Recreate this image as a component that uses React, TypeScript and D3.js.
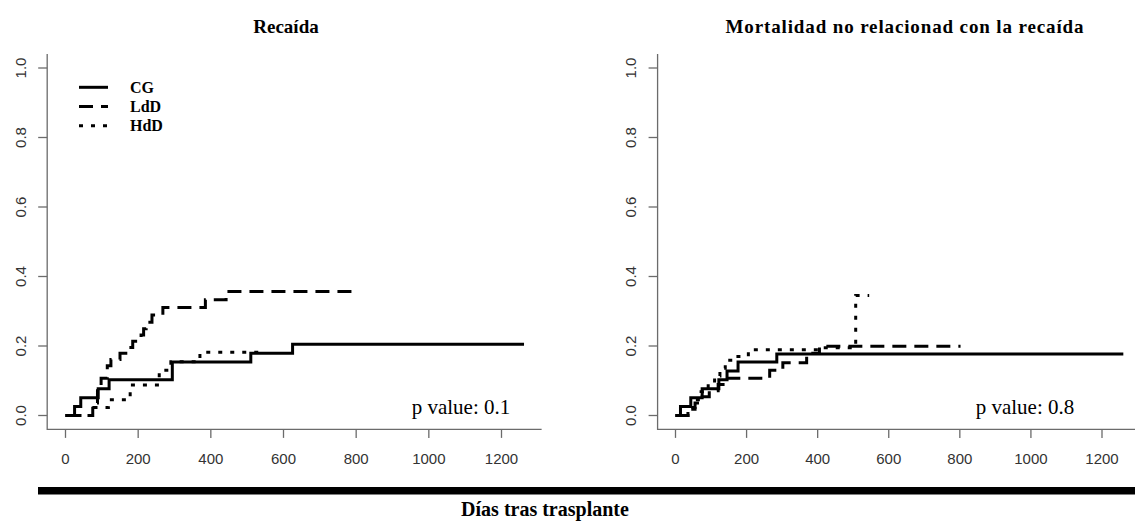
import React from "react";
import * as d3 from "d3";

// ---------- data ----------
const xTicks = [0, 200, 400, 600, 800, 1000, 1200];
const yTicks = [0, 0.2, 0.4, 0.6, 0.8, 1.0];
const yTickLabels = ["0.0", "0.2", "0.4", "0.6", "0.8", "1.0"];

const panelTitles = ["Recaída", "Mortalidad no relacionad con la recaída"];
const pValues = ["p value: 0.1", "p value: 0.8"];
const xAxisTitle = "Días tras trasplante";
const legendLabels = ["CG", "LdD", "HdD"];

// Recaída (relapse)
const relCG_days = [0, 25, 42, 90, 120, 294, 510, 625, 1262];
const relCG_vals = [0, 0.026, 0.051, 0.077, 0.103, 0.154, 0.179, 0.205, 0.205];

const relLdD_days = [0, 75, 88, 98, 115, 125, 150, 175, 185, 208, 215, 222, 238, 268, 385, 442, 790];
const relLdD_vals = [0, 0.036, 0.071, 0.107, 0.143, 0.161, 0.179, 0.196, 0.214, 0.232, 0.25, 0.268, 0.289, 0.311, 0.333, 0.357, 0.357];

const relHdD_days = [0, 78, 118, 178, 258, 290, 370, 540];
const relHdD_vals = [0, 0.023, 0.045, 0.088, 0.13, 0.155, 0.182, 0.182];

// Mortalidad no relacionada con la recaída (NRM)
const nrmCG_days = [0, 14, 43, 75, 122, 145, 176, 285, 1260];
const nrmCG_vals = [0, 0.026, 0.051, 0.077, 0.103, 0.128, 0.154, 0.177, 0.177];

const nrmLdD_days = [0, 40, 55, 75, 95, 120, 140, 265, 302, 369, 405, 802];
const nrmLdD_vals = [0, 0.018, 0.036, 0.054, 0.071, 0.089, 0.107, 0.13, 0.152, 0.179, 0.199, 0.199];

const nrmHdD_days = [0, 35, 55, 72, 92, 110, 125, 140, 162, 205, 408, 507, 545];
const nrmHdD_vals = [0, 0.023, 0.045, 0.068, 0.091, 0.114, 0.136, 0.159, 0.17, 0.189, 0.195, 0.345, 0.345];

// ---------- helpers ----------
type Pt = [number, number];
const zip = (a: number[], b: number[]): Pt[] => a.map((d, i) => [d, b[i]]);

const styles = [
  { dash: undefined as string | undefined },
  { dash: "14,8" },
  { dash: "4,8" },
];

const serif = "'Liberation Serif', 'Times New Roman', serif";
const sans = "'Liberation Sans', Arial, sans-serif";
const axisGrey = "#6b6b6b";
const labelCol = "#333";

const y = d3.scaleLinear().domain([0, 1]).range([415.5, 68]);

function Panel({
  x,
  axisX,
  boxRight,
  series,
  title,
  titleX,
  titleLen,
  pText,
  pX,
  legend,
}: {
  x: d3.ScaleLinear<number, number>;
  axisX: number;
  boxRight: number;
  series: Pt[][];
  title: string;
  titleX: number;
  titleLen?: number;
  pText: string;
  pX: number;
  legend?: boolean;
}) {
  const line = d3
    .line<Pt>()
    .x((d) => x(d[0]))
    .y((d) => y(d[1]))
    .curve(d3.curveStepAfter);
  const yTop = y(1.04);
  const yBot = y(-0.04);
  return (
    <g>
      <text
        x={titleX}
        y={33}
        textAnchor="middle"
        fontFamily={serif}
        fontWeight="bold"
        fontSize={19}
        fill="#000"
        {...(titleLen ? { textLength: titleLen, lengthAdjust: "spacing" } : {})}
      >
        {title}
      </text>
      {/* L box */}
      <path
        d={`M${axisX},${yTop}V${yBot}H${boxRight}`}
        fill="none"
        stroke={axisGrey}
        strokeWidth={1.3}
      />
      {yTicks.map((t, i) => (
        <g key={"y" + i}>
          <line x1={axisX - 9} x2={axisX} y1={y(t)} y2={y(t)} stroke={axisGrey} strokeWidth={1.3} />
          <text
            transform={`translate(${axisX - 21.5},${y(t)}) rotate(-90)`}
            textAnchor="middle"
            fontFamily={sans}
            fontSize={15}
            fill={labelCol}
          >
            {yTickLabels[i]}
          </text>
        </g>
      ))}
      {xTicks.map((t) => (
        <g key={"x" + t}>
          <line x1={x(t)} x2={x(t)} y1={yBot} y2={yBot + 8.5} stroke={axisGrey} strokeWidth={1.3} />
          <text x={x(t)} y={463.5} textAnchor="middle" fontFamily={sans} fontSize={15} fill={labelCol}>
            {t}
          </text>
        </g>
      ))}
      {series.map((s, i) => (
        <path
          key={"s" + i}
          d={line(s) || ""}
          fill="none"
          stroke="#000"
          strokeWidth={3}
          strokeDasharray={styles[i].dash}
          strokeLinecap="butt"
        />
      ))}
      <text x={pX} y={414} fontFamily={serif} fontSize={21} fill="#000">
        {pText}
      </text>
      {legend &&
        legendLabels.map((l, i) => {
          const ly = 87.3 + i * 19.2;
          return (
            <g key={"l" + i}>
              <line
                x1={79}
                x2={108}
                y1={ly}
                y2={ly}
                stroke="#000"
                strokeWidth={3}
                strokeDasharray={styles[i].dash}
              />
              <text x={130} y={ly + 5.5} fontFamily={serif} fontWeight="bold" fontSize={16} fill="#000">
                {l}
              </text>
            </g>
          );
        })}
    </g>
  );
}

export default function App() {
  const xL = d3.scaleLinear().domain([0, 1200]).range([65.5, 501.5]);
  const xR = d3.scaleLinear().domain([0, 1200]).range([675.5, 1102]);
  const relSeries = [
    zip(relCG_days, relCG_vals),
    zip(relLdD_days, relLdD_vals),
    zip(relHdD_days, relHdD_vals),
  ];
  const nrmSeries = [
    zip(nrmCG_days, nrmCG_vals),
    zip(nrmLdD_days, nrmLdD_vals),
    zip(nrmHdD_days, nrmHdD_vals),
  ];
  return (
    <svg
      width={1135}
      height={525}
      style={{ position: "absolute", left: 0, top: 0, background: "#fff" }}
    >
      <rect width={1135} height={525} fill="#fff" />
      <Panel
        x={xL}
        axisX={xL(-50.4)}
        boxRight={xL(1310.4)}
        series={relSeries}
        title={panelTitles[0]}
        titleX={286}
        pText={pValues[0]}
        pX={411.7}
        legend
      />
      <Panel
        x={xR}
        axisX={xR(-50.4)}
        boxRight={1135}
        series={nrmSeries}
        title={panelTitles[1]}
        titleX={904.5}
        titleLen={358}
        pText={pValues[1]}
        pX={975.7}
      />
      <rect x={38} y={487} width={1097} height={7.5} fill="#000" />
      <text x={545} y={516} textAnchor="middle" fontFamily={serif} fontWeight="bold" fontSize={20} fill="#000">
        {xAxisTitle}
      </text>
    </svg>
  );
}
